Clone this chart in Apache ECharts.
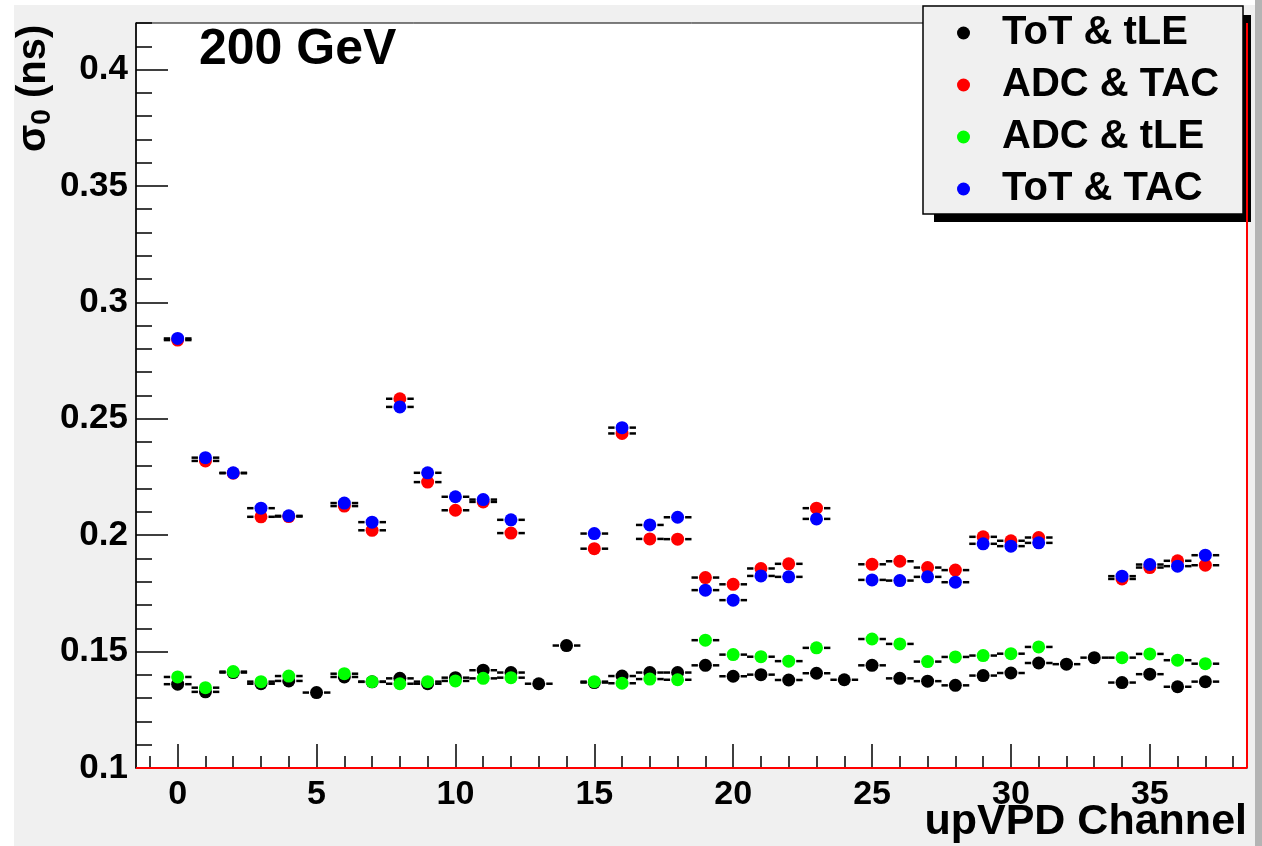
<!DOCTYPE html>
<html>
<head>
<meta charset="utf-8">
<script src="https://cdn.jsdelivr.net/npm/echarts@6/dist/echarts.min.js"></script>
<style>
  html, body { margin: 0; padding: 0; background: #f0f0f0; }
  #chart { width: 1262px; height: 846px; }
</style>
</head>
<body>
<div id="chart"></div>
<script>
// upVPD timing resolution per channel, four calibration combinations

// Channels 0..37 (ToT & tLE has every channel)
const allChannels = [0,1,2,3,4,5,6,7,8,9,10,11,12,13,14,15,16,17,18,19,20,21,22,23,24,25,26,27,28,29,30,31,32,33,34,35,36,37];
const totTle = [0.1360,0.1327,0.1410,0.1362,0.1374,0.1324,0.1391,0.1370,0.1385,0.1362,
                0.1388,0.1420,0.1410,0.1362,0.1526,0.1367,0.1395,0.1410,0.1410,0.1441,
                0.1394,0.1401,0.1378,0.1407,0.1379,0.1441,0.1385,0.1373,0.1355,0.1397,
                0.1408,0.1451,0.1446,0.1474,0.1367,0.1403,0.1349,0.1371];

// Channels where the other three combinations are available
const fitChannels = [0,1,2,3,4,6,7,8,9,10,11,12,15,16,17,18,19,20,21,22,23,25,26,27,28,29,30,31,34,35,36,37];
const adcTac = [0.2838,0.2319,0.2266,0.2079,0.2080,0.2125,0.2021,0.2586,0.2228,0.2107,
                0.2143,0.2009,0.1942,0.2437,0.1984,0.1983,0.1818,0.1789,0.1857,0.1877,
                0.2116,0.1875,0.1888,0.1861,0.1850,0.1993,0.1976,0.1990,0.1812,0.1861,
                0.1890,0.1871];
const adcTle = [0.1391,0.1345,0.1414,0.1371,0.1395,0.1405,0.1371,0.1362,0.1371,0.1374,
                0.1385,0.1388,0.1371,0.1364,0.1382,0.1379,0.1549,0.1487,0.1478,0.1459,
                0.1516,0.1554,0.1533,0.1457,0.1477,0.1483,0.1491,0.1520,0.1474,0.1490,
                0.1463,0.1448];
const totTac = [0.2845,0.2333,0.2268,0.2116,0.2083,0.2138,0.2056,0.2551,0.2268,0.2165,
                0.2153,0.2066,0.2007,0.2462,0.2044,0.2077,0.1764,0.1721,0.1825,0.1821,
                0.2070,0.1808,0.1805,0.1821,0.1798,0.1963,0.1953,0.1967,0.1824,0.1874,
                0.1867,0.1914];

// Axis tick labels
const xMajorTicks = [0, 5, 10, 15, 20, 25, 30, 35];
const yMajorTicks = [0.1, 0.15, 0.2, 0.25, 0.3, 0.35, 0.4];

const FONT = '"Liberation Sans", Arial, Helvetica, sans-serif';

const xMinorTicks = [];
for (let i = -1; i <= 38; i++) xMinorTicks.push(i);
const yMinorTicks = [];
for (let i = 10; i <= 42; i++) yMinorTicks.push(i / 100);

const groups = [
  { name: 'ToT & tLE', color: '#000000', x: allChannels, y: totTle },
  { name: 'ADC & TAC', color: '#ff0000', x: fitChannels, y: adcTac },
  { name: 'ADC & tLE', color: '#00ff00', x: fitChannels, y: adcTle },
  { name: 'ToT & TAC', color: '#0000ff', x: fitChannels, y: totTac }
];

// Horizontal bin-width bars (±0.5 channel) with a gap around the marker
function binBar(params, api) {
  const x = api.value(0), y = api.value(1);
  const c = api.coord([x, y]);
  const l = api.coord([x - 0.5, y]);
  const r = api.coord([x + 0.5, y]);
  const gap = 7.5;
  const st = { stroke: '#000', lineWidth: 2.5 };
  return {
    type: 'group',
    children: [
      { type: 'line', shape: { x1: l[0], y1: c[1], x2: c[0] - gap, y2: c[1] }, style: st },
      { type: 'line', shape: { x1: c[0] + gap, y1: c[1], x2: r[0], y2: c[1] }, style: st }
    ]
  };
}

const series = [];
groups.forEach(g => {
  const pts = g.x.map((ch, i) => [ch, g.y[i]]);
  series.push({
    type: 'custom',
    name: g.name + ' bins',
    renderItem: binBar,
    data: pts,
    encode: { x: 0, y: 1 },
    z: 2,
    silent: true
  });
});
groups.forEach((g, k) => {
  const pts = g.x.map((ch, i) => [ch, g.y[i]]);
  const s = {
    type: 'scatter',
    name: g.name,
    data: pts,
    symbol: 'circle',
    symbolSize: 13,
    itemStyle: { color: g.color, opacity: 1 },
    z: 3 + k
  };
  if (k === 0) {
    s.markLine = {
      silent: true,
      symbol: 'none',
      label: { show: false },
      lineStyle: { color: '#ff0000', width: 2, type: 'solid' },
      data: [{ xAxis: 38.5 }, { yAxis: 0.1 }]
    };
  }
  series.push(s);
});

const chart = echarts.init(document.getElementById('chart'), null, { renderer: 'canvas' });
chart.setOption({
  animation: false,
  backgroundColor: '#f0f0f0',
  grid: {
    left: 136, top: 23, right: 15, bottom: 78,
    show: true, backgroundColor: '#ffffff', borderColor: '#000', borderWidth: 1
  },
  xAxis: [
    {
      type: 'value', min: -1.5, max: 38.5, position: 'bottom',
      axisLine: { show: true, onZero: false, lineStyle: { color: '#000', width: 1.5 } },
      axisTick: { show: true, inside: true, length: 24, customValues: xMajorTicks, lineStyle: { color: '#000', width: 1.5 } },
      axisLabel: { show: true, customValues: xMajorTicks, margin: 10, fontSize: 34, fontWeight: 'bold', color: '#000', fontFamily: FONT },
      splitLine: { show: false }
    },
    {
      type: 'value', min: -1.5, max: 38.5, position: 'bottom',
      axisLine: { show: false, onZero: false },
      axisTick: { show: true, inside: true, length: 12, customValues: xMinorTicks, lineStyle: { color: '#000', width: 1.5 } },
      axisLabel: { show: false },
      splitLine: { show: false }
    }
  ],
  yAxis: [
    {
      type: 'value', min: 0.1, max: 0.42, position: 'left',
      axisLine: { show: true, onZero: false, lineStyle: { color: '#000', width: 1.5 } },
      axisTick: { show: true, inside: true, length: 32, customValues: yMajorTicks, lineStyle: { color: '#000', width: 1.5 } },
      axisLabel: {
        show: true, customValues: yMajorTicks, margin: 8, fontSize: 35, fontWeight: 'bold', color: '#000', fontFamily: FONT,
        formatter: v => String(+(+v).toFixed(2))
      },
      splitLine: { show: false }
    },
    {
      type: 'value', min: 0.1, max: 0.42, position: 'left',
      axisLine: { show: false, onZero: false },
      axisTick: { show: true, inside: true, length: 16, customValues: yMinorTicks, lineStyle: { color: '#000', width: 1.5 } },
      axisLabel: { show: false },
      splitLine: { show: false }
    }
  ],
  legend: {
    orient: 'vertical',
    left: 923, top: 6,
    data: groups.map(g => g.name),
    icon: 'circle',
    itemWidth: 13, itemHeight: 13, itemGap: 8,
    padding: [5, 24, 3, 34],
    backgroundColor: '#f0f0f0',
    borderColor: '#000', borderWidth: 1.5, borderRadius: 0,
    selectedMode: false,
    z: 6,
    textStyle: { fontSize: 40, fontWeight: 'bold', color: '#000', fontFamily: FONT, lineHeight: 44, padding: [0, 0, 0, 27] }
  },
  graphic: [
    // pad bevel edges
    { type: 'rect', left: 0, top: 0, z: -10, silent: true, shape: { width: 1262, height: 5 }, style: { fill: '#ffffff' } },
    { type: 'rect', left: 0, top: 0, z: -10, silent: true, shape: { width: 14, height: 846 }, style: { fill: '#ffffff' } },
    { type: 'rect', right: 0, top: 0, z: -10, silent: true, shape: { width: 7, height: 846 }, style: { fill: '#b4b4b4' } },
    // legend drop shadow
    { type: 'rect', left: 934, top: 15, z: 5, silent: true, shape: { width: 317, height: 207 }, style: { fill: '#000' } },
    {
      type: 'text', left: 199, top: 25, z: 10,
      style: { text: '200 GeV', font: 'bold 50px ' + FONT, fill: '#000' }
    },
    {
      type: 'text', right: 15, top: 801, z: 10,
      style: { text: 'upVPD Channel', font: 'bold 43px ' + FONT, fill: '#000' }
    },
    {
      type: 'text', x: 34, y: 152, rotation: Math.PI / 2, z: 10,
      style: {
        text: '{a|σ}{b|0}{a| (ns)}',
        align: 'left', verticalAlign: 'middle',
        rich: {
          a: { fontSize: 40, fontWeight: 'bold', fontFamily: FONT, fill: '#000', lineHeight: 44 },
          b: { fontSize: 28, fontWeight: 'bold', fontFamily: FONT, fill: '#000', lineHeight: 22, verticalAlign: 'bottom' }
        }
      }
    }
  ],
  series: series
});
</script>
</body>
</html>
